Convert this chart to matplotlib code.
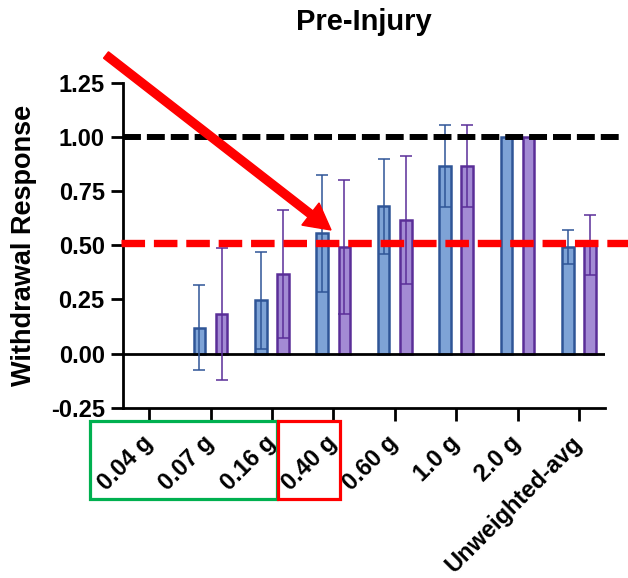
import matplotlib
matplotlib.use("Agg")
import matplotlib.pyplot as plt
import numpy as np
from matplotlib.patches import FancyArrow, Rectangle

plt.rcParams['font.family'] = ['Liberation Sans', 'DejaVu Sans']
plt.rcParams['font.weight'] = 'bold'

categories = ["0.04 g", "0.07 g", "0.16 g", "0.40 g", "0.60 g", "1.0 g", "2.0 g", "Unweighted-avg"]
blue_mean = [0.0, 0.12, 0.245, 0.555, 0.68, 0.867, 1.0, 0.492]
blue_sd   = [0.0, 0.195, 0.225, 0.27, 0.218, 0.19, 0.0, 0.08]
purple_mean = [0.0, 0.182, 0.368, 0.494, 0.618, 0.867, 1.0, 0.502]
purple_sd   = [0.0, 0.305, 0.295, 0.31, 0.295, 0.19, 0.0, 0.14]
title = "Pre-Injury"
ylabel = "Withdrawal Response"
yticks = [-0.25, 0.0, 0.25, 0.50, 0.75, 1.00, 1.25]
ref_black = 1.0
ref_red = 0.51

blue_fill, blue_edge = "#7EA3D6", "#2F5597"
purple_fill, purple_edge = "#A38BD4", "#5A2E98"

fig = plt.figure(figsize=(6.28, 5.78), dpi=100)
ax = fig.add_axes([0.1954, 0.2948, 0.7675, 0.5616])

x = np.arange(len(categories))
off = 0.18
w = 0.19
bmask = np.array(blue_mean) > 0
pmask = np.array(purple_mean) > 0
ax.bar((x - off)[bmask], np.array(blue_mean)[bmask], w, color=blue_fill, edgecolor=blue_edge,
       linewidth=1.8, zorder=3)
ax.bar((x + off)[pmask], np.array(purple_mean)[pmask], w, color=purple_fill, edgecolor=purple_edge,
       linewidth=1.8, zorder=3)

bm = np.array(blue_sd) > 0
pm = np.array(purple_sd) > 0
ax.errorbar((x - off)[bm], np.array(blue_mean)[bm], yerr=np.array(blue_sd)[bm], fmt='none',
            ecolor=blue_edge, elinewidth=1.1, capsize=4, capthick=1.1, zorder=4)
ax.errorbar((x + off)[pm], np.array(purple_mean)[pm], yerr=np.array(purple_sd)[pm], fmt='none',
            ecolor=purple_edge, elinewidth=1.1, capsize=4, capthick=1.1, zorder=4)

ax.set_xlim(-0.43, 7.42)
ax.set_ylim(-0.25, 1.25)

# zero line
ax.axhline(0, color='black', lw=2, zorder=3.5)
# black dashed reference
ax.plot([-0.43, 7.66], [ref_black, ref_black], color='black', lw=4.3, dashes=(3.0, 1.0),
        clip_on=False, zorder=5)
# red dashed reference
ax.plot([-0.45, 8.2], [ref_red, ref_red], color='#FF0000', lw=5.3, dashes=(3.2, 1.2),
        clip_on=False, zorder=6)

for s in ['top', 'right']:
    ax.spines[s].set_visible(False)
for s in ['left', 'bottom']:
    ax.spines[s].set_linewidth(2)

ax.set_yticks(yticks)
ax.set_yticklabels([f"{v:.2f}" for v in yticks], fontsize=17, fontweight='bold')
ax.tick_params(axis='y', length=9, width=2, pad=4)
ax.set_xticks(x)
ax.set_xticklabels(categories, fontsize=17, fontweight='bold', rotation=45,
                   ha='right', va='center', rotation_mode='anchor')
ax.tick_params(axis='x', length=9, width=2, pad=14)

ax.set_ylabel(ylabel, fontsize=19.5, fontweight='bold')
ax.yaxis.set_label_coords(-0.178, 0.5)
ax.set_title(title, fontsize=21, fontweight='bold', pad=38)

# annotations: arrow and boxes (figure inches)
arrow = FancyArrow(1.06, 5.23, 3.31 - 1.06, 3.48 - 5.23, width=0.08, head_width=0.28,
                   head_length=0.26, length_includes_head=True, color='#FF0000',
                   transform=fig.dpi_scale_trans, zorder=10)
fig.patches.append(arrow)
fig.patches.append(Rectangle((0.90, 0.79), 1.87, 0.78, fill=False, edgecolor='#00B050',
                             linewidth=2.3, transform=fig.dpi_scale_trans))
fig.patches.append(Rectangle((2.78, 0.79), 0.62, 0.78, fill=False, edgecolor='#FF0000',
                             linewidth=2.3, transform=fig.dpi_scale_trans))

fig.savefig("out.png", dpi=100)
